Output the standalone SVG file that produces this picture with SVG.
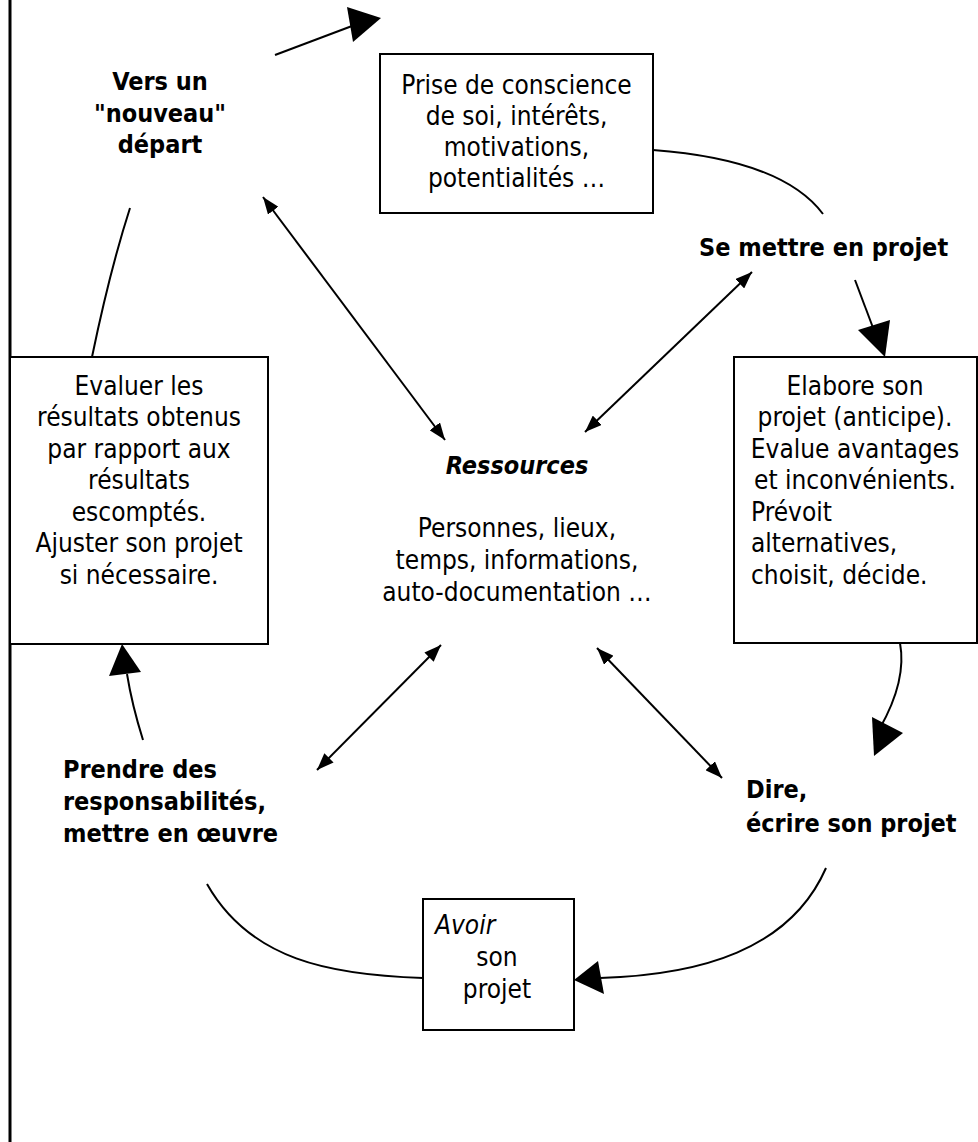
<svg xmlns="http://www.w3.org/2000/svg" width="978" height="1142" viewBox="0 0 978 1142">
<defs>
<style>
.t{font-family:"DejaVu Sans Condensed","DejaVu Sans",sans-serif;font-stretch:condensed;font-size:26px;fill:#000}
.b{font-weight:bold;font-size:25px}
.i{font-style:italic}
.c{text-anchor:middle}
.box{fill:#fff;stroke:#000;stroke-width:2}
.ln{fill:none;stroke:#000;stroke-width:2}
.hd{fill:#000;stroke:none}
</style>
<marker id="ah" viewBox="0 0 17 13" refX="17" refY="6.5" markerWidth="17" markerHeight="13" markerUnits="userSpaceOnUse" orient="auto-start-reverse">
<path d="M0,0 L17,6.5 L0,13 Z" fill="#000"/>
</marker>
</defs>
<rect width="978" height="1142" fill="#fff"/>
<line x1="10" y1="0" x2="10" y2="1142" stroke="#000" stroke-width="3"/>

<g id="connectors">
<path class="ln" d="M275,55 L352,26"/>
<polygon class="hd" points="381,18 347,7 353,42"/>
<path class="ln" d="M130,208 Q110,270 92,357"/>
<path class="ln" d="M653,150 C720,155 790,170 823,214"/>
<path class="ln" d="M855,280 L875,333"/>
<polygon class="hd" points="885,357 858,330 890,320"/>
<path class="ln" d="M900,643 C906,675 893,705 880,728"/>
<polygon class="hd" points="874,756 872,717 903,733"/>
<path class="ln" d="M826,868 C790,950 700,975 600,978"/>
<polygon class="hd" points="574,980 598,961 604,994"/>
<path class="ln" d="M207,884 C250,960 330,975 423,978"/>
<path class="ln" d="M143,740 Q132,705 127,674"/>
<polygon class="hd" points="122,644 109,676 141,672"/>
<line class="ln" x1="263" y1="197" x2="445" y2="440" marker-start="url(#ah)" marker-end="url(#ah)"/>
<line class="ln" x1="752" y1="272" x2="585" y2="432" marker-start="url(#ah)" marker-end="url(#ah)"/>
<line class="ln" x1="441" y1="645" x2="317" y2="770" marker-start="url(#ah)" marker-end="url(#ah)"/>
<line class="ln" x1="597" y1="648" x2="722" y2="778" marker-start="url(#ah)" marker-end="url(#ah)"/>
</g>

<g id="node-depart">
<text class="t b c" x="160" y="90">Vers un</text>
<text class="t b c" x="160" y="122">"nouveau"</text>
<text class="t b c" x="160" y="153">départ</text>
</g>

<g id="node-prise">
<rect class="box" x="380" y="54" width="273" height="159"/>
<text class="t c" x="516.5" y="94">Prise de conscience</text>
<text class="t c" x="516.5" y="125">de soi, intérêts,</text>
<text class="t c" x="516.5" y="156">motivations,</text>
<text class="t c" x="516.5" y="187">potentialités …</text>
</g>

<g id="node-semettre">
<text class="t b" x="699" y="256">Se mettre en projet</text>
</g>

<g id="node-elabore">
<rect class="box" x="734" y="357" width="243" height="286"/>
<text class="t c" x="855" y="395">Elabore son</text>
<text class="t c" x="855" y="426">projet (anticipe).</text>
<text class="t c" x="855" y="458">Evalue avantages</text>
<text class="t c" x="855" y="489">et inconvénients.</text>
<text class="t" x="751" y="521">Prévoit</text>
<text class="t" x="751" y="552">alternatives,</text>
<text class="t" x="751" y="584">choisit, décide.</text>
</g>

<g id="node-evaluer">
<rect class="box" x="10" y="357" width="258" height="287"/>
<text class="t c" x="139" y="395">Evaluer les</text>
<text class="t c" x="139" y="426">résultats obtenus</text>
<text class="t c" x="139" y="458">par rapport aux</text>
<text class="t c" x="139" y="489">résultats</text>
<text class="t c" x="139" y="521">escomptés.</text>
<text class="t c" x="139" y="552">Ajuster son projet</text>
<text class="t c" x="139" y="584">si nécessaire.</text>
</g>

<g id="node-ressources">
<text class="t b i c" x="517" y="474">Ressources</text>
<text class="t c" x="517" y="537">Personnes, lieux,</text>
<text class="t c" x="517" y="569">temps, informations,</text>
<text class="t c" x="517" y="601">auto-documentation …</text>
</g>

<g id="node-prendre">
<text class="t b" x="63" y="778">Prendre des</text>
<text class="t b" x="63" y="810">responsabilités,</text>
<text class="t b" x="63" y="842">mettre en œuvre</text>
</g>

<g id="node-dire">
<text class="t b" x="746" y="798">Dire,</text>
<text class="t b" x="746" y="832">écrire son projet</text>
</g>

<g id="node-avoir">
<rect class="box" x="423" y="899" width="151" height="131"/>
<text class="t i" x="435" y="934">Avoir</text>
<text class="t c" x="497" y="966">son</text>
<text class="t c" x="497" y="998">projet</text>
</g>
</svg>
